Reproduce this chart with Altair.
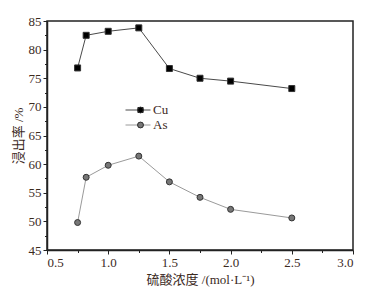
import altair as alt
import pandas as pd

conc = [0.75, 0.82, 1.0, 1.25, 1.5, 1.75, 2.0, 2.5]
cu = [76.8, 82.5, 83.2, 83.8, 76.7, 75.0, 74.5, 73.2]
as_ = [49.8, 57.7, 59.8, 61.4, 56.9, 54.2, 52.1, 50.6]
series = ["Cu", "As"]

x_ticks = [0.5 + 0.25 * i for i in range(11)]
y_ticks = [45 + 2.5 * i for i in range(17)]

rows = []
for name, vals in zip(series, [cu, as_]):
    for c, v in zip(conc, vals):
        rows.append({"conc": c, "rate": v, "series": name, "marker": name})
df = pd.DataFrame(rows)

TXT = "#3b2a1e"
FONT = "Liberation Serif, Noto Sans CJK SC"

xenc = alt.X("conc:Q", scale=alt.Scale(domain=[0.5, 3.0], nice=False, zero=False),
             axis=alt.Axis(values=x_ticks, title="硫酸浓度 /(mol·L⁻¹)",
                           labelExpr="datum.value % 0.5 == 0 ? format(datum.value, '.1f') : ''",
                           labelOverlap=False, grid=False, labelFont=FONT, labelFontSize=13,
                           tickSize={"condition": {"test": "datum.value % 0.5 != 0", "value": 2.5}, "value": 4},
                           titlePadding=4))
yenc = alt.Y("rate:Q", scale=alt.Scale(domain=[45, 85], nice=False, zero=False),
             axis=alt.Axis(values=y_ticks, title="浸出率 /%",
                           labelExpr="datum.value % 5 == 0 ? format(datum.value, 'd') : ''",
                           labelOverlap=False, grid=False, labelFont=FONT, labelFontSize=13,
                           tickSize={"condition": {"test": "datum.value % 5 != 0", "value": 2.5}, "value": 4},
                           titlePadding=3))

lines = alt.Chart(df).mark_line(strokeWidth=1).encode(
    x=xenc, y=yenc,
    stroke=alt.Stroke("series:N",
                      scale=alt.Scale(domain=series, range=["#4a4a4a", "#9a9a9a"]),
                      legend=alt.Legend(title=None, orient="none", legendX=78, legendY=83,
                                        symbolType="stroke", symbolSize=625, symbolStrokeWidth=1,
                                        labelFont=FONT, labelFontSize=13, labelColor=TXT,
                                        labelOffset=2, clipHeight=12, rowPadding=2, padding=0)),
)

marker_legend = alt.Legend(title=None, orient="none", legendX=87, legendY=83,
                           symbolSize=34, symbolStrokeColor="#333", symbolStrokeWidth=1,
                           labelFont=FONT, labelFontSize=13, labelExpr="''",
                           labelOffset=2, clipHeight=12, rowPadding=2, padding=0)

points = alt.Chart(df).mark_point(filled=True, size=36, stroke="#333", strokeWidth=1, opacity=1).encode(
    x=xenc, y=yenc,
    fill=alt.Fill("marker:N", sort=series,
                  scale=alt.Scale(range=["#000000", "#777777"]),
                  legend=marker_legend),
    shape=alt.Shape("marker:N", sort=series, scale=alt.Scale(range=["square", "circle"]),
                    legend=marker_legend),
)

chart = alt.layer(lines, points).properties(
    width=306, height=229,
    background="white",
    autosize=alt.AutoSizeParams(type="none"),
    padding={"left": 47, "top": 21, "right": 24, "bottom": 41},
).configure_view(
    stroke="#222", strokeWidth=1.5
).configure_axis(
    labelFont=FONT, labelFontSize=13, labelColor=TXT,
    titleFont=FONT, titleFontSize=13, titleColor=TXT, titleFontWeight="normal",
    domainColor="#222", domainWidth=1.5, tickColor="#222", tickWidth=1,
    labelPadding=2,
)

chart.save("out.html", embed_options={"renderer": "svg", "actions": False})
